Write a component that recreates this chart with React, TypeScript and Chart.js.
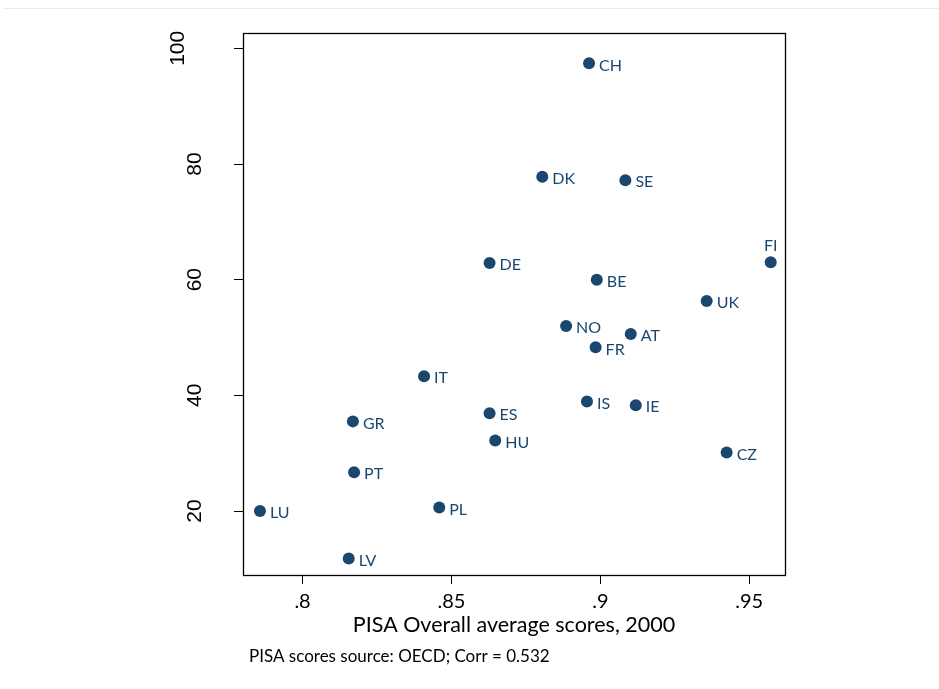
import React, { useEffect, useRef } from "react";
import { Chart, registerables } from "chart.js";

Chart.register(...registerables);

const countries = ["CH", "DK", "SE", "FI", "DE", "BE", "UK", "NO", "AT", "FR", "IT", "IS", "IE", "ES", "GR", "HU", "CZ", "PT", "PL", "LU", "LV"];
const pisaScores = [0.8962, 0.8805, 0.9084, 0.9572, 0.8628, 0.8988, 0.9357, 0.8885, 0.9102, 0.8984, 0.8408, 0.8955, 0.9119, 0.8628, 0.8169, 0.8647, 0.9424, 0.8173, 0.8459, 0.7857, 0.8155];
const yValues = [97.4, 77.8, 77.2, 63.0, 62.9, 60.0, 56.3, 52.0, 50.6, 48.3, 43.3, 38.95, 38.3, 36.9, 35.5, 32.2, 30.1, 26.7, 20.6, 20.0, 11.8];
const labelAbove = ["FI"];

const xTickValues = [0.8, 0.85, 0.9, 0.95];
const xTickLabels = [".8", ".85", ".9", ".95"];
const yTickValues = [20, 40, 60, 80, 100];
const yTickLabels = ["20", "40", "60", "80", "100"];

const xTitle = "PISA Overall average scores, 2000";
const footnote = "PISA scores source: OECD; Corr = 0.532";

const NAVY = "#1a476f";

const decorPlugin = {
  id: "decor",
  beforeDraw(chart: any) {
    const ctx = chart.ctx;
    ctx.save();
    ctx.fillStyle = "#ffffff";
    ctx.fillRect(0, 0, chart.width, chart.height);
    ctx.fillStyle = "#e4ecef";
    ctx.fillRect(4, 8, chart.width - 4, 1);
    ctx.restore();
  },
  afterDatasetsDraw(chart: any) {
    const ctx = chart.ctx;
    const meta = chart.getDatasetMeta(0);
    ctx.save();
    ctx.font = "16px Lato";
    ctx.fillStyle = NAVY;
    meta.data.forEach((pt: any, i: number) => {
      const name = countries[i];
      if (labelAbove.includes(name)) {
        ctx.textAlign = "center";
        ctx.textBaseline = "middle";
        ctx.fillText(name, pt.x, pt.y - 16);
      } else {
        ctx.textAlign = "left";
        ctx.textBaseline = "middle";
        ctx.fillText(name, pt.x + 10, pt.y + 2);
      }
    });
    ctx.restore();
  },
  afterDraw(chart: any) {
    const ctx = chart.ctx;
    const a = chart.chartArea;
    ctx.save();
    ctx.strokeStyle = "#000000";
    ctx.lineWidth = 1.3;
    ctx.strokeRect(Math.round(a.left) + 0.5, Math.round(a.top) + 0.5, Math.round(a.right - a.left), Math.round(a.bottom - a.top));
    ctx.font = "17px Lato";
    ctx.fillStyle = "#000000";
    ctx.textAlign = "left";
    ctx.textBaseline = "alphabetic";
    ctx.fillText(footnote, 249, 662);
    ctx.restore();
  },
};

export default function App() {
  const ref = useRef<HTMLCanvasElement>(null);
  useEffect(() => {
    if (!ref.current) return;
    const chart = new Chart(ref.current, {
      type: "scatter",
      data: {
        datasets: [
          {
            data: pisaScores.map((x, i) => ({ x, y: yValues[i] })),
            backgroundColor: NAVY,
            borderWidth: 0,
            pointRadius: 6,
            pointHoverRadius: 6,
          },
        ],
      },
      options: {
        responsive: false,
        animation: false,
        events: [],
        layout: { padding: { top: 33, right: 154, left: 0, bottom: 51 } },
        plugins: { legend: { display: false }, tooltip: { enabled: false } },
        scales: {
          x: {
            type: "linear",
            min: 0.78,
            max: 0.962,
            afterFit: (s: any) => {
              s.height = 63;
              s.paddingLeft = 0;
              s.paddingRight = 0;
            },
            afterBuildTicks: (s: any) => {
              s.ticks = xTickValues.map((v) => ({ value: v }));
            },
            ticks: {
              color: "#000",
              font: { family: "Lato", size: 20 },
              padding: 6,
              maxRotation: 0,
              minRotation: 0,
              callback: (v: any) => {
                const i = xTickValues.findIndex((t) => Math.abs(t - v) < 1e-9);
                return i >= 0 ? xTickLabels[i] : "";
              },
            },
            grid: { drawOnChartArea: false, drawTicks: true, tickLength: 9, color: "#000" },
            border: { display: true, color: "#000" },
            title: {
              display: true,
              text: xTitle,
              color: "#000",
              font: { family: "Lato", size: 21.5 },
              padding: { top: 0, bottom: 0 },
            },
          },
          y: {
            type: "linear",
            min: 8.94,
            max: 102.65,
            afterFit: (s: any) => {
              s.width = 243;
              s.paddingTop = 0;
              s.paddingBottom = 0;
            },
            afterBuildTicks: (s: any) => {
              s.ticks = yTickValues.map((v) => ({ value: v }));
            },
            ticks: {
              color: "#000",
              font: (c: any) => ({
                family: "'Liberation Sans'",
                size: 21,
                lineHeight: c.tick && c.tick.value === 100 ? 1.65 : 1.2,
              }),
              padding: 21,
              minRotation: 90,
              maxRotation: 90,
              crossAlign: "center",
              callback: (v: any) => {
                const i = yTickValues.findIndex((t) => Math.abs(t - v) < 1e-9);
                if (i < 0) return "";
                return i === yTickValues.length - 1 ? [yTickLabels[i], ""] : yTickLabels[i];
              },
            },
            grid: { drawOnChartArea: false, drawTicks: true, tickLength: 9, color: "#000" },
            border: { display: true, color: "#000" },
          },
        },
      },
      plugins: [decorPlugin],
    } as any);
    return () => chart.destroy();
  }, []);
  return (
    <div style={{ position: "absolute", left: 0, top: 0, width: 939, height: 689, background: "#fff" }}>
      <canvas ref={ref} width={939} height={689} />
    </div>
  );
}
